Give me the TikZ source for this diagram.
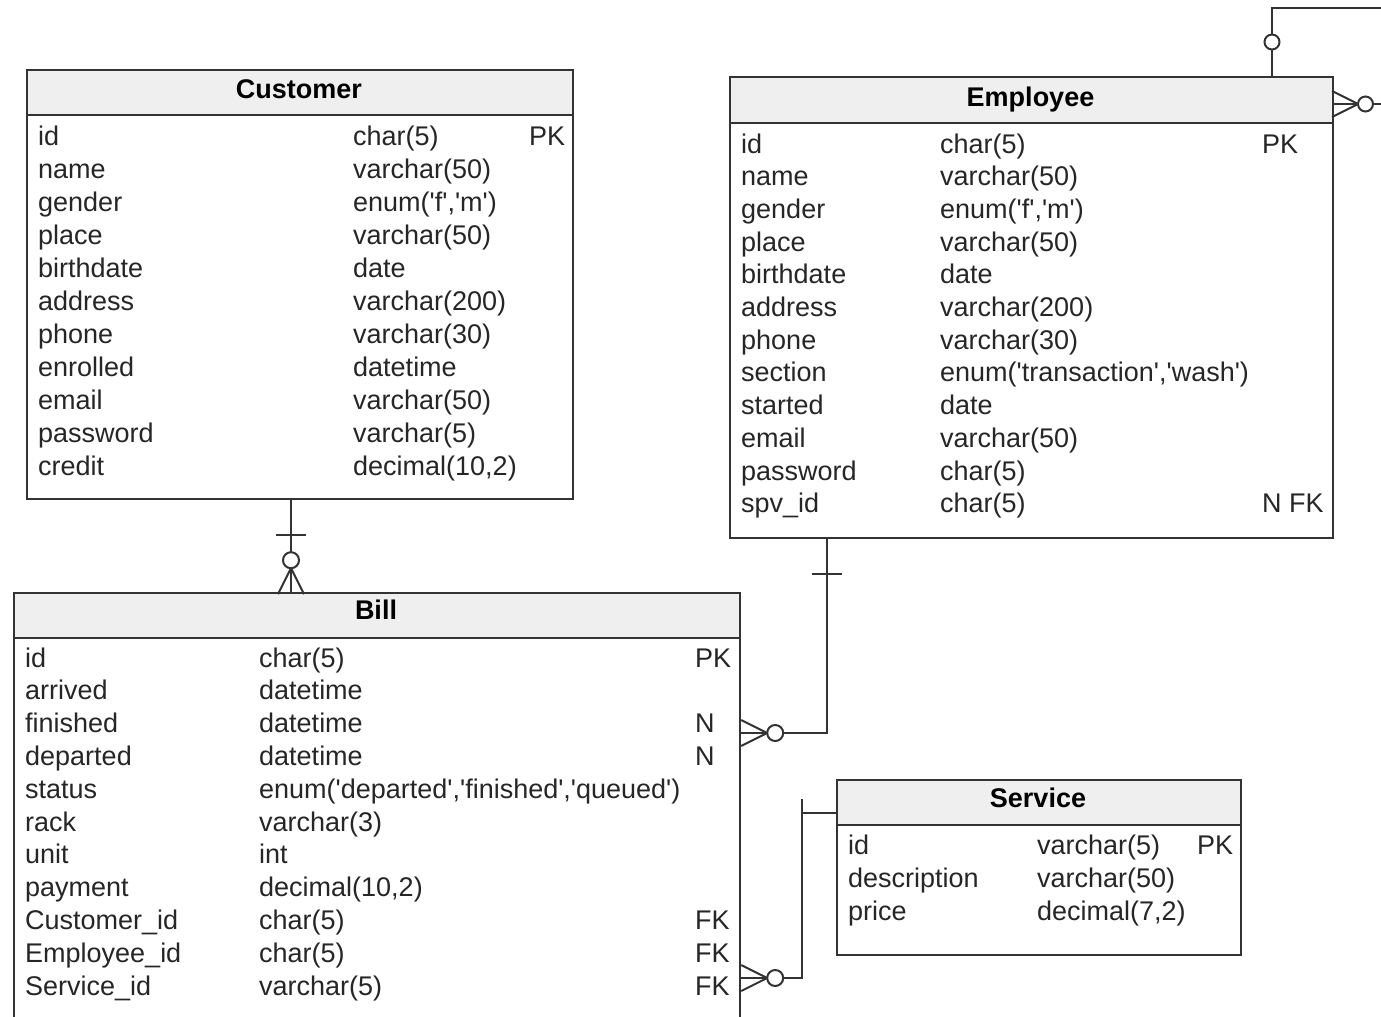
\documentclass[tikz,border=0pt]{standalone}
\usepackage{fontspec}
\newfontfamily\erfont{Liberation Sans}
\definecolor{ln}{HTML}{333333}
\definecolor{hd}{HTML}{EFEFEF}
\definecolor{tx}{HTML}{262626}
\begin{document}
\begin{tikzpicture}[x=1pt,y=-1pt,
 tbl/.style={draw=ln, line width=2.2pt, fill=white, anchor=north west, inner sep=0pt},
 hdr/.style={draw=ln, line width=2.2pt, fill=hd, anchor=north west, inner sep=0pt},
 title/.style={font=\erfont\fontsize{27}{32}\selectfont\bfseries, text=black, anchor=base, inner sep=0pt},
 cell/.style={font=\erfont\fontsize{27}{32}\selectfont, text=tx, anchor=base west, inner sep=0pt},
 rel/.style={draw=ln, line width=2pt},
 opt/.style={draw=ln, line width=2pt, fill=white},
]
\useasboundingbox (0,0) rectangle (1381,1017);
\clip (0,0) rectangle (1381,1017);

% ---------------- Customer
\node[tbl, minimum width=546pt, minimum height=429pt] (cust) at (26,69) {};
\node[hdr, minimum width=546pt, minimum height=45pt] (custh) at (26,69) {};
\node[title] (custt) at (299,98) {Customer};
\foreach \n/\t [count=\i from 0] in {id/char(5), name/varchar(50), gender/{enum('f','m')}, place/varchar(50), birthdate/date, address/varchar(200), phone/varchar(30), enrolled/datetime, email/varchar(50), password/varchar(5), credit/{decimal(10,2)}}{
  \node[cell] (cn\i) at (38,{145+33*\i}) {\n};
  \node[cell] (ct\i) at (353,{145+33*\i}) {\t};
}
\node[cell] (ck0) at (529,145) {PK};

% ---------------- Employee
\node[tbl, minimum width=603pt, minimum height=461pt] (emp) at (729,76) {};
\node[hdr, minimum width=603pt, minimum height=46pt] (emph) at (729,76) {};
\node[title] (empt) at (1030.5,106) {Employee};
\foreach \n/\t [count=\i from 0] in {id/char(5), name/varchar(50), gender/{enum('f','m')}, place/varchar(50), birthdate/date, address/varchar(200), phone/varchar(30), section/{enum('transaction','wash')}, started/date, email/varchar(50), password/char(5), spv\_id/char(5)}{
  \node[cell] (en\i) at (741,{153+32.7*\i}) {\n};
  \node[cell] (et\i) at (940,{153+32.7*\i}) {\t};
}
\node[cell] (ek0) at (1262,153) {PK};
\node[cell] (ek11) at (1262,512.7) {N FK};

% ---------------- Bill
\node[tbl, minimum width=726pt, minimum height=450pt] (bill) at (13,592) {};
\node[hdr, minimum width=726pt, minimum height=45pt] (billh) at (13,592) {};
\node[title] (billt) at (376,619) {Bill};
\foreach \n/\t [count=\i from 0] in {id/char(5), arrived/datetime, finished/datetime, departed/datetime, status/{enum('departed','finished','queued')}, rack/varchar(3), unit/int, payment/{decimal(10,2)}, Customer\_id/char(5), Employee\_id/char(5), Service\_id/varchar(5)}{
  \node[cell] (bn\i) at (25,{667+32.8*\i}) {\n};
  \node[cell] (bt\i) at (259,{667+32.8*\i}) {\t};
}
\foreach \k/\i in {PK/0, N/2, N/3, FK/8, FK/9, FK/10}{
  \node[cell] (bk\i) at (695,{667+32.8*\i}) {\k};
}

% ---------------- Service
\node[tbl, minimum width=404pt, minimum height=175pt] (serv) at (836,779) {};
\node[hdr, minimum width=404pt, minimum height=45pt] (servh) at (836,779) {};
\node[title] (servt) at (1038,807) {Service};
\foreach \n/\t [count=\i from 0] in {id/varchar(5), description/varchar(50), price/{decimal(7,2)}}{
  \node[cell] (sn\i) at (848,{854+33*\i}) {\n};
  \node[cell] (st\i) at (1037,{854+33*\i}) {\t};
}
\node[cell] (sk0) at (1197,854) {PK};

% ---------------- Customer -- Bill
\coordinate (cb) at (291,0);
\draw[rel] (cust.south -| cb) -- (bill.north -| cb);
\begin{scope}[shift={(cust.south -| cb)}]
  \draw[rel] (-15,35) -- (15,35);
  \draw[rel] (-13,94) -- (0,68) -- (13,94);
  \draw[opt] (0,60) circle[radius=8pt];
\end{scope}

% ---------------- Employee -- Bill
\coordinate (eb) at (827,733);
\draw[rel] (emp.south -| eb) -- (eb) -- (bill.east |- eb);
\begin{scope}[shift={(emp.south -| eb)}]
  \draw[rel] (-15,35) -- (15,35);
\end{scope}
\begin{scope}[shift={(bill.east |- eb)}]
  \draw[rel] (0,-13) -- (26,0) -- (0,13);
  \draw[opt] (34,0) circle[radius=8pt];
\end{scope}

% ---------------- Service -- Bill
\coordinate (sv) at (802,813);
\coordinate (sb) at (802,978);
\draw[rel] (serv.west |- sv) -- (sv) -- (sb) -- (bill.east |- sb);
\begin{scope}[shift={(sv)}]
  \draw[rel] (0,-14) -- (0,14);
\end{scope}
\begin{scope}[shift={(bill.east |- sb)}]
  \draw[rel] (0,-13) -- (26,0) -- (0,13);
  \draw[opt] (34,0) circle[radius=8pt];
\end{scope}

% ---------------- Employee self relation (supervisor)
\coordinate (st) at (1272,8);
\coordinate (stend) at (1395,8);
\coordinate (sr) at (1332,104);
\coordinate (srend) at (1395,104);
\draw[rel] (emp.north -| st) -- (st) -- (stend);
\begin{scope}[shift={(emp.north -| st)}]
  \draw[opt] (0,-34) circle[radius=7.5pt];
\end{scope}
\draw[rel] (sr) -- (srend);
\begin{scope}[shift={(sr)}]
  \draw[rel] (0,-13) -- (26,0) -- (0,13);
  \draw[opt] (33.5,0) circle[radius=7.5pt];
\end{scope}
\end{tikzpicture}
\end{document}
